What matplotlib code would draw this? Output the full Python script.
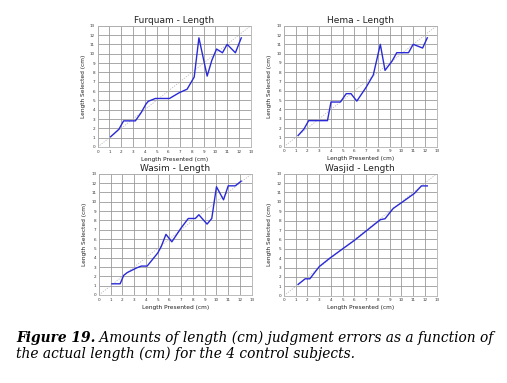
import numpy as np
import matplotlib
matplotlib.use('Agg')
import matplotlib.pyplot as plt

W, H = 507, 383

# data (cm)
furquam_x = [1.1, 1.8, 2.2, 3.2, 3.7, 4.1, 4.3, 4.9, 6.1, 6.9, 7.6, 8.2, 8.6, 9.3, 9.7, 10.1, 10.6, 11.0, 11.7, 12.2]
furquam_y = [1.1, 1.9, 2.8, 2.8, 3.7, 4.6, 4.9, 5.2, 5.2, 5.8, 6.2, 7.5, 11.7, 7.6, 9.3, 10.5, 10.1, 11.0, 10.1, 11.7]

hema_x = [1.2, 1.7, 2.1, 3.7, 4.0, 4.8, 5.3, 5.7, 6.2, 7.0, 7.6, 8.2, 8.6, 9.2, 9.6, 10.6, 11.0, 11.8, 12.2]
hema_y = [1.2, 1.9, 2.8, 2.8, 4.8, 4.8, 5.7, 5.7, 4.9, 6.4, 7.7, 11.0, 8.2, 9.2, 10.1, 10.1, 11.0, 10.6, 11.7]

wasim_x = [1.1, 1.8, 2.1, 2.4, 3.2, 3.6, 4.1, 5.0, 5.3, 5.7, 6.2, 7.0, 7.6, 8.2, 8.5, 9.2, 9.6, 10.0, 10.6, 11.0, 11.6, 12.1]
wasim_y = [1.2, 1.2, 2.1, 2.4, 2.9, 3.1, 3.1, 4.5, 5.2, 6.5, 5.7, 7.2, 8.2, 8.2, 8.6, 7.6, 8.2, 11.6, 10.2, 11.7, 11.7, 12.2]

wasjid_x = [1.2, 1.8, 2.2, 3.0, 3.9, 5.0, 6.0, 7.0, 8.2, 8.6, 9.3, 10.1, 11.1, 11.7, 12.2]
wasjid_y = [1.2, 1.8, 1.8, 3.1, 4.0, 5.0, 5.9, 6.9, 8.1, 8.2, 9.3, 10.0, 10.9, 11.7, 11.7]

names = ['Furquam', 'Hema', 'Wasim', 'Wasjid']
xs = [furquam_x, hema_x, wasim_x, wasjid_x]
ys = [furquam_y, hema_y, wasim_y, wasjid_y]

# axes boxes in pixels: left, top, right, bottom
boxes = [(97.7, 25.7, 250.7, 147.0),
         (284.0, 25.7, 436.7, 146.7),
         (99.0, 173.7, 251.7, 295.0),
         (284.0, 173.7, 436.7, 295.7)]

fig = plt.figure(figsize=(W / 100, H / 100), dpi=100)
fig.patch.set_facecolor('white')

for name, x, y, (l, t, r, b) in zip(names, xs, ys, boxes):
    ax = fig.add_axes([l / W, 1 - b / H, (r - l) / W, (b - t) / H])
    ax.set_xlim(0, 13)
    ax.set_ylim(0, 13)
    ax.set_xticks(range(14))
    ax.set_yticks(range(14))
    ax.grid(True, color='#9a9a9a', lw=0.6)
    ax.set_axisbelow(True)
    for s in ax.spines.values():
        s.set_color('#b0b0b0')
        s.set_linewidth(0.6)
    ax.tick_params(length=0, labelsize=3, pad=2, colors='#333333')
    ax.plot([0, 13], [0, 13], color='#bbbbbb', lw=0.6, ls=(0, (1.5, 1.5)))
    ax.plot(x, y, color='#2a2ad8', lw=1.0)
    ax.set_title(name + ' - Length', fontsize=6.5, pad=2.0, color='#222222')
    ax.set_xlabel('Length Presented (cm)', fontsize=4.2, labelpad=2, color='#222222')
    ax.set_ylabel('Length Selected (cm)', fontsize=4.2, labelpad=3, color='#222222')

# caption
fs = 9.9
fam = 'DejaVu Serif'
t1 = fig.text(16 / W, 1 - 342.3 / H, 'Figure 19.', fontsize=fs, family=fam,
              style='italic', weight='bold', va='baseline')
fig.canvas.draw()
bb = t1.get_window_extent()
fig.text(bb.x1 / W, 1 - 342.3 / H, ' Amounts of length (cm) judgment errors as a function of',
         fontsize=fs, family=fam, style='italic', va='baseline')
fig.text(16 / W, 1 - 357.7 / H, 'the actual length (cm) for the 4 control subjects.',
         fontsize=fs, family=fam, style='italic', va='baseline')

fig.savefig('out.png', dpi=100)
